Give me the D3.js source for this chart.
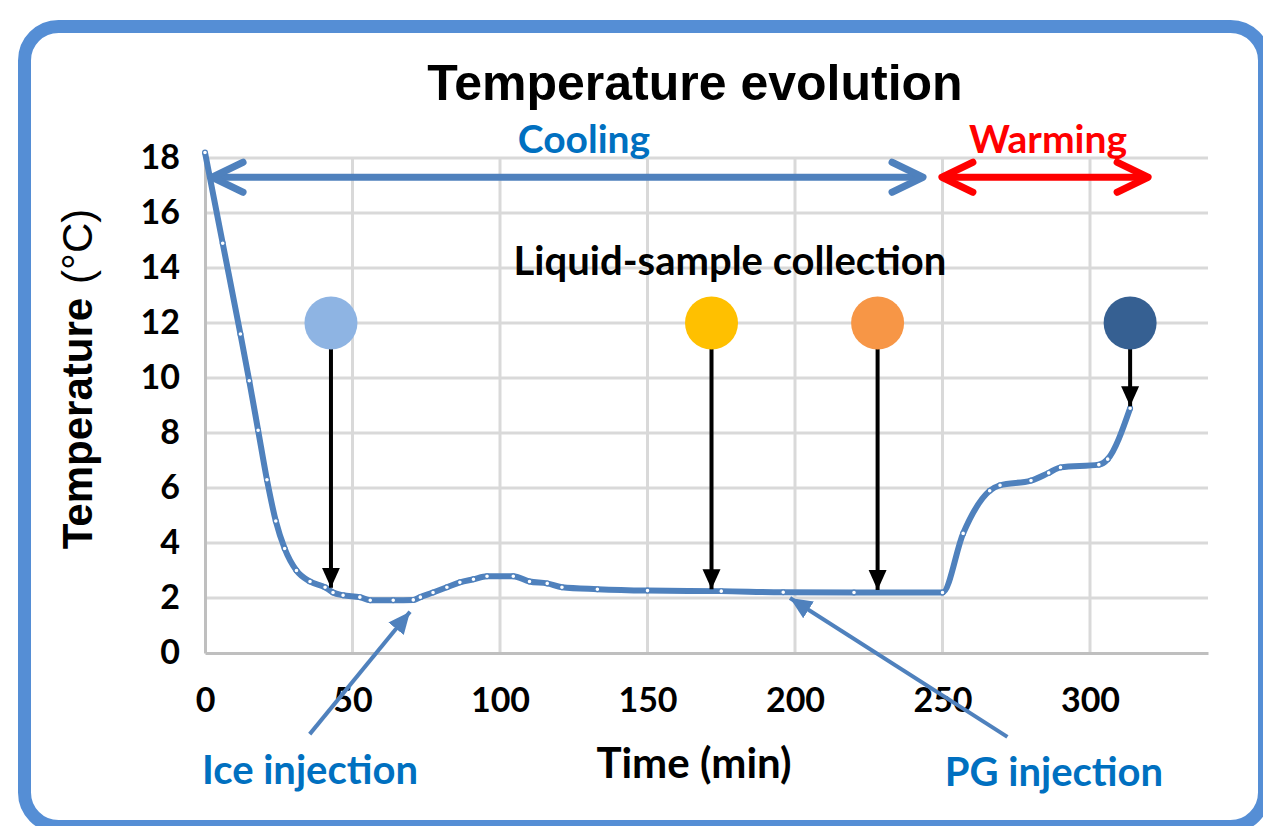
<!DOCTYPE html>
<html>
<head>
<meta charset="utf-8">
<script src="https://cdn.jsdelivr.net/npm/d3@7"></script>
<style>
  body { margin: 0; background: #fff; }
  svg { display: block; }
</style>
</head>
<body>
<div id="chart"></div>
<script>
// temperature record (time in min, temperature in degC)
let timeMin = [0, 6, 12, 15, 18, 21, 24, 27, 31, 35.6, 40.7, 43.4, 46.8, 52.5, 56, 63.8, 70.6, 73, 77.3, 82,
  86.4, 91, 95.6, 104.5, 110, 116, 121, 133, 150, 175, 196, 220, 250, 257, 266, 269.5, 280, 286, 290, 303, 306, 313.6];
let tempC = [18.2, 14.9, 11.6, 9.9, 8.1, 6.3, 4.8, 3.8, 3.0, 2.6, 2.39, 2.2, 2.1, 2.03, 1.92, 1.92, 1.93, 2.03, 2.2, 2.39,
  2.57, 2.68, 2.79, 2.79, 2.6, 2.53, 2.39, 2.32, 2.27, 2.25, 2.21, 2.2, 2.2, 4.35, 5.9, 6.1, 6.27, 6.55, 6.75, 6.85, 7.05, 8.9];

let xTicks = [0, 50, 100, 150, 200, 250, 300];
let yTicks = [0, 2, 4, 6, 8, 10, 12, 14, 16, 18];

// liquid sample collection points
let sampleTime = [42.7, 171.7, 228, 313.6];
let sampleTip = [2.3, 2.25, 2.22, 8.9];
let sampleColors = ["#8eb4e3", "#ffc000", "#f79646", "#366092"];

let width = 1263, height = 826;
let margin = {left: 205, right: 55, top: 158, bottom: 173};

let svg = d3.select("#chart").append("svg")
  .attr("width", width)
  .attr("height", height);

let defs = svg.append("defs");
defs.append("marker")
  .attr("id", "headBlack")
  .attr("markerUnits", "userSpaceOnUse")
  .attr("viewBox", "0 0 20 20")
  .attr("refX", 20).attr("refY", 10)
  .attr("markerWidth", 20).attr("markerHeight", 20)
  .attr("orient", "auto")
  .append("path").attr("d", "M0,1 L20,10 L0,19 Z").attr("fill", "#000");
defs.append("marker")
  .attr("id", "headBlue")
  .attr("markerUnits", "userSpaceOnUse")
  .attr("viewBox", "0 0 20 20")
  .attr("refX", 20).attr("refY", 10)
  .attr("markerWidth", 22).attr("markerHeight", 22)
  .attr("orient", "auto")
  .append("path").attr("d", "M0,1 L20,10 L0,19 Z").attr("fill", "#4f81bd");

// frame
svg.append("rect")
  .attr("x", 24.5).attr("y", 26.5)
  .attr("width", 1240).attr("height", 800)
  .attr("rx", 34).attr("ry", 34)
  .attr("fill", "#fff")
  .attr("stroke", "#558ed5")
  .attr("stroke-width", 13);

let x = d3.scaleLinear().domain([0, 340]).range([margin.left, width - margin.right]);
let y = d3.scaleLinear().domain([0, 18]).range([height - margin.bottom, margin.top]);

// grid
svg.append("g")
  .selectAll("line.h")
  .data(yTicks.slice(1))
  .enter().append("line")
  .attr("x1", x(0)).attr("x2", x(340))
  .attr("y1", d => y(d)).attr("y2", d => y(d))
  .attr("stroke", "#d9d9d9").attr("stroke-width", 3);
svg.append("g")
  .selectAll("line.v")
  .data(xTicks.slice(1))
  .enter().append("line")
  .attr("x1", d => x(d)).attr("x2", d => x(d))
  .attr("y1", y(0)).attr("y2", y(18))
  .attr("stroke", "#d9d9d9").attr("stroke-width", 3);

// axes
let calibri = "Lato, 'Open Sans', sans-serif";
let xAxis = svg.append("g")
  .attr("transform", "translate(0," + y(0) + ")")
  .call(d3.axisBottom(x).tickValues(xTicks).tickSize(0).tickPadding(35));
let yAxis = svg.append("g")
  .attr("transform", "translate(" + x(0) + ",0)")
  .call(d3.axisLeft(y).tickValues(yTicks).tickSize(0).tickPadding(25));
[xAxis, yAxis].forEach(function(a) {
  a.select(".domain").attr("stroke", "#bfbfbf").attr("stroke-width", 3);
  a.selectAll("text")
    .style("font-family", calibri)
    .style("font-weight", "bold")
    .style("font-size", "34px")
    .attr("fill", "#000");
});

// temperature line
let line = d3.line()
  .x(function(d, i) { return x(timeMin[i]); })
  .y(function(d) { return y(d); })
  .curve(d3.curveMonotoneX);
svg.append("path")
  .datum(tempC)
  .attr("d", line)
  .attr("fill", "none")
  .attr("stroke", "#4f81bd")
  .attr("stroke-width", 6)
  .attr("stroke-linejoin", "round");
svg.append("g")
  .selectAll("circle")
  .data(tempC)
  .enter().append("circle")
  .attr("cx", (d, i) => x(timeMin[i]))
  .attr("cy", d => y(d))
  .attr("r", 2.4)
  .attr("fill", "#fff")
  .attr("stroke", "#4f81bd")
  .attr("stroke-width", 1.2);

// sample collection markers
svg.append("g")
  .selectAll("line")
  .data(sampleTime)
  .enter().append("line")
  .attr("x1", d => x(d)).attr("x2", d => x(d))
  .attr("y1", y(12) + 24)
  .attr("y2", (d, i) => y(sampleTip[i]) - 2)
  .attr("stroke", "#000").attr("stroke-width", 4)
  .attr("marker-end", "url(#headBlack)");
svg.append("g")
  .selectAll("circle")
  .data(sampleTime)
  .enter().append("circle")
  .attr("cx", d => x(d))
  .attr("cy", y(12))
  .attr("r", 26.5)
  .attr("fill", (d, i) => sampleColors[i]);

// cooling / warming arrows (open chevron heads)
function doubleArrow(t0, t1, level, color) {
  let g = svg.append("g")
    .attr("stroke", color).attr("stroke-width", 7)
    .attr("stroke-linecap", "round").attr("stroke-linejoin", "round")
    .attr("fill", "none");
  let yy = y(level);
  g.append("line").attr("x1", x(t0) + 2).attr("x2", x(t1) - 2).attr("y1", yy).attr("y2", yy);
  g.append("path").attr("d", "M" + (x(t0) + 31) + "," + (yy - 15) + " L" + x(t0) + "," + yy + " L" + (x(t0) + 31) + "," + (yy + 15));
  g.append("path").attr("d", "M" + (x(t1) - 31) + "," + (yy - 15) + " L" + x(t1) + "," + yy + " L" + (x(t1) - 31) + "," + (yy + 15));
}
doubleArrow(2.4, 243.4, 17.3, "#4f81bd");
doubleArrow(249.8, 319.7, 17.3, "#ff0000");

// injection arrows
svg.append("line")
  .attr("x1", x(35.5)).attr("y1", y(-2.95))
  .attr("x2", x(69.5)).attr("y2", y(1.5))
  .attr("stroke", "#4f81bd").attr("stroke-width", 4)
  .attr("marker-end", "url(#headBlue)");
svg.append("line")
  .attr("x1", x(272)).attr("y1", y(-3.05))
  .attr("x2", x(198.3)).attr("y2", y(2.0))
  .attr("stroke", "#4f81bd").attr("stroke-width", 4)
  .attr("marker-end", "url(#headBlue)");

// texts
svg.append("text")
  .attr("x", 695).attr("y", 100)
  .attr("text-anchor", "middle")
  .style("font-family", "'Liberation Sans', Arial, sans-serif")
  .style("font-weight", "bold").style("font-size", "50px")
  .text("Temperature evolution");

function label(txt, px, py, size, color) {
  svg.append("text")
    .attr("x", px).attr("y", py)
    .attr("text-anchor", "middle")
    .style("font-family", calibri)
    .style("font-weight", "bold").style("font-size", size + "px")
    .attr("fill", color)
    .text(txt);
}
label("Cooling", 584, 153, 39, "#0070c0");
label("Warming", 1048, 153, 39, "#ff0000");
label("Liquid-sample collection", 730, 275, 40, "#000");
label("Time (min)", 694, 778, 42, "#000");
label("Ice injection", 310, 784, 40, "#0070c0");
label("PG injection", 1054, 786, 40, "#0070c0");

let yl = svg.append("text")
  .attr("transform", "translate(92,379) rotate(-90)")
  .attr("text-anchor", "middle")
  .style("font-family", "'Liberation Sans', Arial, sans-serif")
  .style("font-size", "42px");
yl.append("tspan").style("font-weight", "bold").text("Temperature");
yl.append("tspan").attr("dx", 14).text("(°C)");
</script>
</body>
</html>
